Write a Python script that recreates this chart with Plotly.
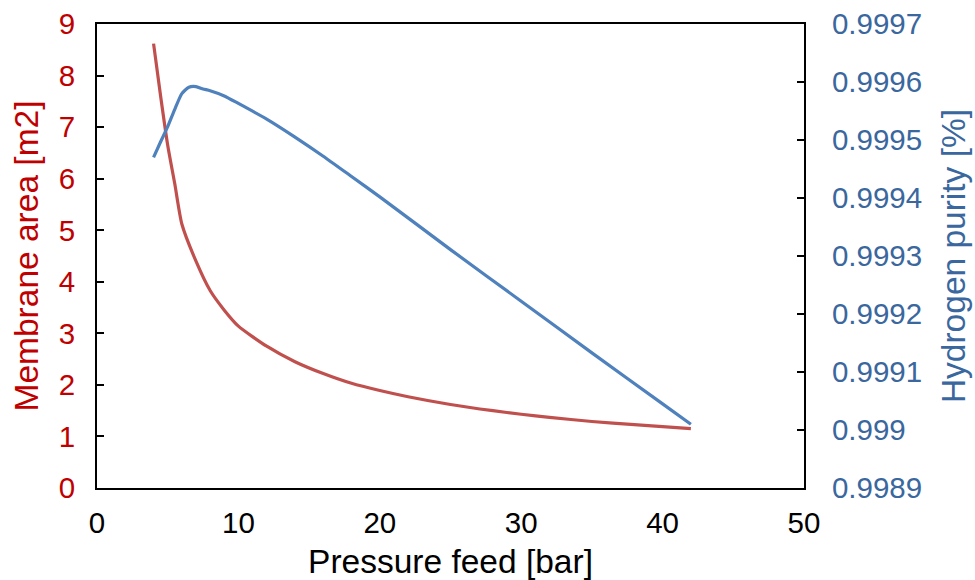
import plotly.graph_objects as go

pressure_red = [4, 4.5, 5, 5.5, 6, 7, 8, 9, 10, 12, 14, 16, 18, 20, 22, 25, 28, 30, 32, 35, 38, 40, 42]
membrane_area = [8.62, 7.6, 6.65, 5.9, 5.12, 4.40, 3.83, 3.45, 3.14, 2.75, 2.45, 2.22, 2.03, 1.89, 1.77,
                 1.62, 1.50, 1.43, 1.37, 1.29, 1.23, 1.19, 1.15]

pressure_blue = [4, 4.5, 5, 5.5, 6, 6.5, 7, 7.5, 8, 9, 10, 12, 14, 16, 18, 20, 25, 30, 35, 40, 42]
hydrogen_purity = [0.99947, 0.999497, 0.999523, 0.999553, 0.99958, 0.999591, 0.999592, 0.999588,
                   0.999585, 0.999576, 0.999563, 0.999536, 0.999505, 0.999472, 0.999437,
                   0.999402, 0.999311, 0.999222, 0.999133, 0.999045, 0.99901]

x_ticks = [0, 10, 20, 30, 40, 50]
y1_ticks = list(range(0, 10))
y2_ticks = [0.9989, 0.999, 0.9991, 0.9992, 0.9993, 0.9994, 0.9995, 0.9996, 0.9997]
y2_labels = ["0.9989", "0.999", "0.9991", "0.9992", "0.9993", "0.9994", "0.9995", "0.9996", "0.9997"]

RED_TXT = "#C00000"
BLUE_TXT = "#3A679D"
FONT = "Liberation Sans, Arial, sans-serif"
TICK_SIZE = 29.5
TITLE_SIZE = 33.5

fig = go.Figure()
fig.add_trace(go.Scatter(x=pressure_red, y=membrane_area, mode="lines",
                         line=dict(color="#C0504D", width=3.2, shape="spline", smoothing=0.6),
                         yaxis="y", showlegend=False))
fig.add_trace(go.Scatter(x=pressure_blue, y=hydrogen_purity, mode="lines",
                         line=dict(color="#4F81BD", width=3.2, shape="spline", smoothing=0.6),
                         yaxis="y2", showlegend=False))

fig.update_layout(
    width=975, height=580,
    margin=dict(l=97, r=171, t=24, b=92),
    paper_bgcolor="white", plot_bgcolor="white",
    font=dict(family=FONT, size=TICK_SIZE, color="black"),
    xaxis=dict(range=[0, 50], tickvals=x_ticks, showgrid=False, zeroline=False, automargin=False,
               showline=True, linecolor="black", linewidth=2, mirror=True, ticks="",
               ticklabelstandoff=8, ticklabeloverflow="allow",
               tickfont=dict(size=TICK_SIZE, color="black"),
               title=dict(text="Pressure feed [bar]", font=dict(size=TITLE_SIZE, color="black"), standoff=12)),
    yaxis=dict(range=[0, 9], tickvals=y1_ticks, showgrid=False, zeroline=False, automargin=False,
               showline=True, linecolor="black", linewidth=2, ticks="inside", ticklen=7,
               tickwidth=2, tickcolor="black", ticklabelstandoff=14, ticklabeloverflow="allow",
               tickfont=dict(size=TICK_SIZE, color=RED_TXT),
               title=dict(text="Membrane area [m2]", font=dict(size=TITLE_SIZE, color=RED_TXT), standoff=10)),
    yaxis2=dict(range=[0.9989, 0.9997], tickvals=y2_ticks, ticktext=y2_labels, overlaying="y",
                side="right", showgrid=False, zeroline=False, automargin=False,
                showline=True, linecolor="black", linewidth=2, ticks="inside", ticklen=7,
                tickwidth=2, tickcolor="black", ticklabelstandoff=20, ticklabeloverflow="allow",
                tickfont=dict(size=TICK_SIZE, color=BLUE_TXT),
                title=dict(text="Hydrogen purity [%]", font=dict(size=TITLE_SIZE, color=BLUE_TXT), standoff=20)),
)

fig.write_html("out.html", config={"displayModeBar": False},
               post_script="document.body.style.margin='0';document.body.style.overflow='hidden';")
